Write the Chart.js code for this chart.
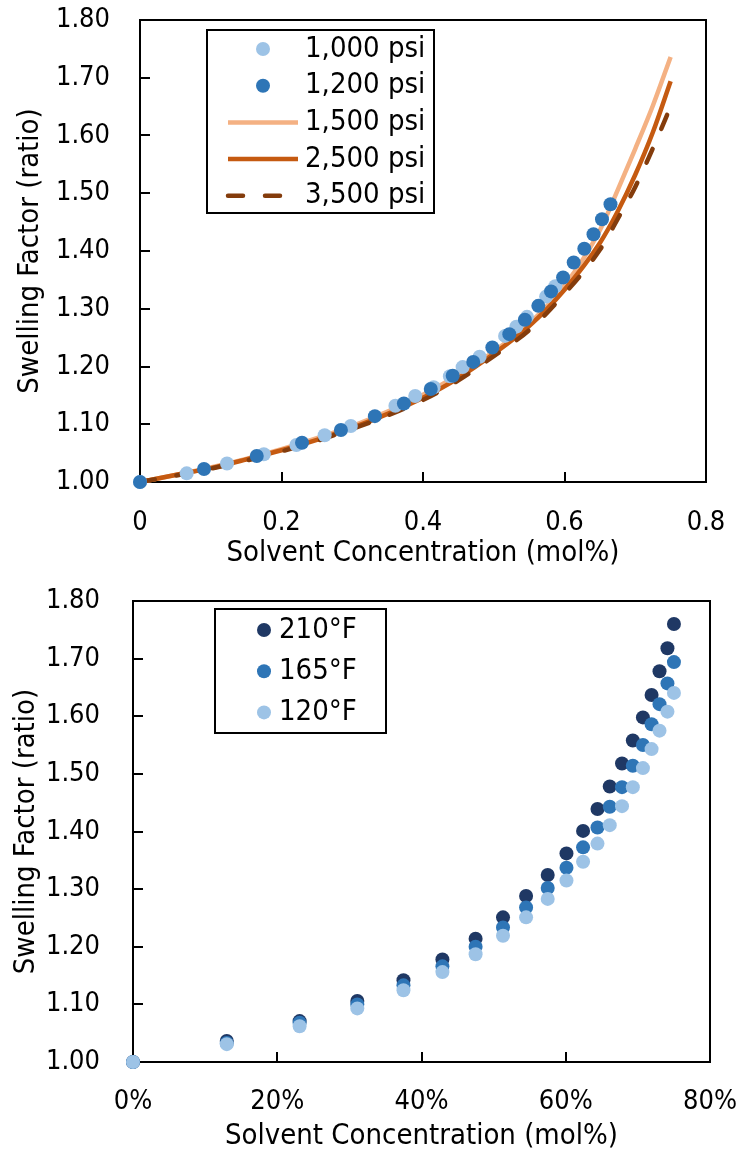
<!DOCTYPE html>
<html>
<head>
<meta charset="utf-8">
<title>Swelling Factor</title>
<script src="https://cdn.jsdelivr.net/npm/chart.js@4.4.1/dist/chart.umd.min.js"></script>
<style>
    html, body { margin: 0; padding: 0; background: #fff; }
    .panel { width: 743px; height: 576px; }
</style>
</head>
<body>
<div class="panel"><canvas id="pressure-chart" width="743" height="576"></canvas></div>
<div class="panel"><canvas id="temp-chart" width="743" height="576"></canvas></div>
<script>
// ---- Top chart: pressure series (x = mol fraction, y = swelling factor) ----
const psi1000X = [0, 0.066, 0.123, 0.175, 0.221, 0.261, 0.298, 0.361, 0.389, 0.415, 0.438, 0.456, 0.480, 0.516, 0.532, 0.547, 0.574, 0.587];
const psi1000Y = [1.000, 1.015, 1.032, 1.048, 1.064, 1.081, 1.097, 1.132, 1.149, 1.164, 1.183, 1.199, 1.217, 1.253, 1.269, 1.286, 1.321, 1.339];

const psi1200X = [0, 0.0905, 0.165, 0.229, 0.284, 0.332, 0.373, 0.411, 0.442, 0.471, 0.498, 0.522, 0.544, 0.563, 0.581, 0.598, 0.613, 0.628, 0.641, 0.653, 0.665];
const psi1200Y = [1.000, 1.0225, 1.045, 1.068, 1.090, 1.114, 1.136, 1.161, 1.184, 1.208, 1.233, 1.256, 1.281, 1.305, 1.330, 1.354, 1.380, 1.404, 1.429, 1.455, 1.481];

// model curves share the same x grid
const curveX = [0, 0.05, 0.10, 0.15, 0.20, 0.25, 0.30, 0.35, 0.40, 0.45, 0.50, 0.55, 0.60, 0.65, 0.675, 0.70, 0.725, 0.75];
const psi1500Y = [1.000, 1.012, 1.025, 1.040, 1.057, 1.076, 1.097, 1.122, 1.151, 1.186, 1.226, 1.274, 1.340, 1.436, 1.505, 1.577, 1.652, 1.736];
const psi2500Y = [1.000, 1.012, 1.024, 1.039, 1.055, 1.073, 1.094, 1.118, 1.146, 1.180, 1.222, 1.270, 1.333, 1.414, 1.468, 1.532, 1.606, 1.694];
const psi3500Y = [1.000, 1.011, 1.023, 1.037, 1.053, 1.071, 1.092, 1.115, 1.142, 1.176, 1.218, 1.263, 1.326, 1.402, 1.455, 1.511, 1.578, 1.650];

// ---- Bottom chart: temperature series (x = mol%, y = swelling factor) ----
const tempX = [0, 0.130, 0.231, 0.311, 0.375, 0.429, 0.475, 0.513, 0.545, 0.575, 0.601, 0.624, 0.644, 0.661, 0.678, 0.693, 0.707, 0.719, 0.730, 0.741, 0.750];
const f210Y = [1.000, 1.0365, 1.071, 1.106, 1.142, 1.178, 1.214, 1.251, 1.288, 1.3245, 1.362, 1.401, 1.439, 1.478, 1.518, 1.558, 1.598, 1.637, 1.678, 1.718, 1.760];
const f165Y = [1.000, 1.033, 1.068, 1.100, 1.133, 1.166, 1.200, 1.2335, 1.268, 1.302, 1.337, 1.3725, 1.407, 1.443, 1.477, 1.514, 1.550, 1.586, 1.621, 1.657, 1.694];
const f120Y = [1.000, 1.031, 1.062, 1.093, 1.1245, 1.156, 1.187, 1.219, 1.251, 1.283, 1.315, 1.3475, 1.379, 1.411, 1.444, 1.477, 1.510, 1.543, 1.575, 1.608, 1.6405];

const FONT = "'DejaVu Sans Condensed', 'DejaVu Sans', sans-serif";
Chart.defaults.font.family = FONT;
Chart.defaults.color = '#000';

const toPoints = (xs, ys) => xs.map((x, i) => ({ x: x, y: ys[i] }));

/**
 * Box frame round the plot area plus inward tick marks
 */
const frameTicks = {
    id: 'frameTicks',
    beforeDatasetsDraw(chart) {
        const { ctx, chartArea: a, scales: { x, y } } = chart;
        ctx.save();
        ctx.strokeStyle = '#000';
        ctx.lineWidth = 2;
        ctx.strokeRect(a.left, a.top, a.right - a.left, a.bottom - a.top);
        ctx.beginPath();
        x.ticks.forEach(t => {
            const px = Math.round(x.getPixelForValue(t.value));
            ctx.moveTo(px, a.bottom);
            ctx.lineTo(px, a.bottom - 10);
        });
        y.ticks.forEach(t => {
            const py = Math.round(y.getPixelForValue(t.value));
            ctx.moveTo(a.left, py);
            ctx.lineTo(a.left + 10, py);
        });
        ctx.stroke();
        ctx.restore();
    }
};

/**
 * Legend drawn inside a bordered box, Excel style
 */
const boxLegend = {
    id: 'boxLegend',
    afterDraw(chart, args, opts) {
        const { ctx } = chart;
        ctx.save();
        ctx.fillStyle = '#fff';
        ctx.fillRect(opts.left, opts.top, opts.width, opts.height);
        ctx.strokeStyle = '#000';
        ctx.lineWidth = 2;
        ctx.strokeRect(opts.left, opts.top, opts.width, opts.height);
        ctx.font = opts.fontSize + 'px ' + FONT;
        ctx.textBaseline = 'middle';
        chart.data.datasets.forEach((ds, i) => {
            const cy = opts.firstRow + i * opts.rowGap;
            if (ds.showLine) {
                ctx.strokeStyle = ds.borderColor;
                ctx.lineWidth = ds.borderWidth;
                ctx.lineCap = ds.borderCapStyle || 'butt';
                ctx.setLineDash(ds.borderDash || []);
                ctx.beginPath();
                ctx.moveTo(opts.lineStart, cy);
                ctx.lineTo(opts.lineEnd, cy);
                ctx.stroke();
                ctx.setLineDash([]);
            } else {
                ctx.fillStyle = ds.backgroundColor;
                ctx.beginPath();
                ctx.arc(opts.markerX, cy, ds.pointRadius, 0, Math.PI * 2);
                ctx.fill();
            }
            ctx.fillStyle = '#000';
            ctx.fillText(ds.label, opts.textX, cy);
        });
        ctx.restore();
    }
};

function pointSet(label, xs, ys, color, order) {
    return {
        label: label,
        data: toPoints(xs, ys),
        backgroundColor: color,
        borderColor: color,
        borderWidth: 0,
        pointRadius: 7,
        pointHoverRadius: 7,
        showLine: false,
        clip: false,
        order: order
    };
}

function lineSet(label, ys, color, order, dash) {
    return {
        label: label,
        data: toPoints(curveX, ys),
        borderColor: color,
        backgroundColor: color,
        borderWidth: 4.5,
        borderDash: dash || [],
        borderCapStyle: dash ? 'round' : 'butt',
        pointRadius: 0,
        showLine: true,
        tension: 0.4,
        cubicInterpolationMode: 'monotone',
        clip: false,
        order: order
    };
}

function axes(cfg) {
    return {
        x: {
            type: 'linear',
            min: 0,
            max: 0.8,
            afterFit: s => {
                s.height = cfg.xHeight;
                s.paddingLeft = 0;
                s.paddingRight = 0;
            },
            grid: { display: false, drawTicks: false },
            border: { display: false },
            ticks: {
                stepSize: 0.2,
                padding: cfg.xPad,
                maxRotation: 0,
                font: { size: 27 },
                callback: cfg.xFormat
            },
            title: {
                display: true,
                text: 'Solvent Concentration (mol%)',
                font: { size: 29 },
                padding: { top: 0, bottom: cfg.xTitlePad }
            }
        },
        y: {
            type: 'linear',
            min: 1,
            max: 1.8,
            afterFit: s => {
                s.width = cfg.yWidth;
                s.paddingTop = 0;
                s.paddingBottom = 0;
            },
            grid: { display: false, drawTicks: false },
            border: { display: false },
            ticks: {
                stepSize: 0.1,
                padding: cfg.yPad,
                font: { size: 27 },
                callback: v => v.toFixed(2)
            },
            title: {
                display: true,
                text: 'Swelling Factor (ratio)',
                font: { size: 29 },
                padding: { top: cfg.yTitlePad, bottom: 0 }
            }
        }
    };
}

new Chart(document.getElementById('pressure-chart'), {
    type: 'scatter',
    data: {
        datasets: [
            pointSet('1,000 psi', psi1000X, psi1000Y, '#9DC3E6', 1),
            pointSet('1,200 psi', psi1200X, psi1200Y, '#2E75B6', 0),
            lineSet('1,500 psi', psi1500Y, '#F4B183', 4),
            lineSet('2,500 psi', psi2500Y, '#C55A11', 3),
            lineSet('3,500 psi', psi3500Y, '#843C0C', 2, [15, 22])
        ]
    },
    options: {
        responsive: false,
        animation: false,
        layout: { padding: { left: 0, top: 20, right: 37, bottom: 0 } },
        scales: axes({
            xHeight: 94, xPad: 25, xTitlePad: 5,
            yWidth: 140, yPad: 30, yTitlePad: 13,
            xFormat: v => String(Number(v.toFixed(1)))
        }),
        plugins: {
            legend: { display: false },
            tooltip: { enabled: false },
            boxLegend: {
                left: 207, top: 30, width: 227, height: 183,
                firstRow: 49, rowGap: 36.7,
                markerX: 263, lineStart: 228, lineEnd: 298, textX: 305,
                fontSize: 29
            }
        }
    },
    plugins: [frameTicks, boxLegend]
});

new Chart(document.getElementById('temp-chart'), {
    type: 'scatter',
    data: {
        datasets: [
            pointSet('210°F', tempX, f210Y, '#1F3864', 2),
            pointSet('165°F', tempX, f165Y, '#2E75B6', 1),
            pointSet('120°F', tempX, f120Y, '#9DC3E6', 0)
        ]
    },
    options: {
        responsive: false,
        animation: false,
        layout: { padding: { left: 0, top: 25, right: 33, bottom: 0 } },
        scales: axes({
            xHeight: 90, xPad: 24, xTitlePad: -2,
            yWidth: 133, yPad: 33, yTitlePad: 9,
            xFormat: v => Math.round(v * 100) + '%'
        }),
        plugins: {
            legend: { display: false },
            tooltip: { enabled: false },
            boxLegend: {
                left: 215, top: 33, width: 171, height: 124,
                firstRow: 54, rowGap: 41.2,
                markerX: 264, lineStart: 0, lineEnd: 0, textX: 279,
                fontSize: 29
            }
        }
    },
    plugins: [frameTicks, boxLegend]
});
</script>
</body>
</html>
